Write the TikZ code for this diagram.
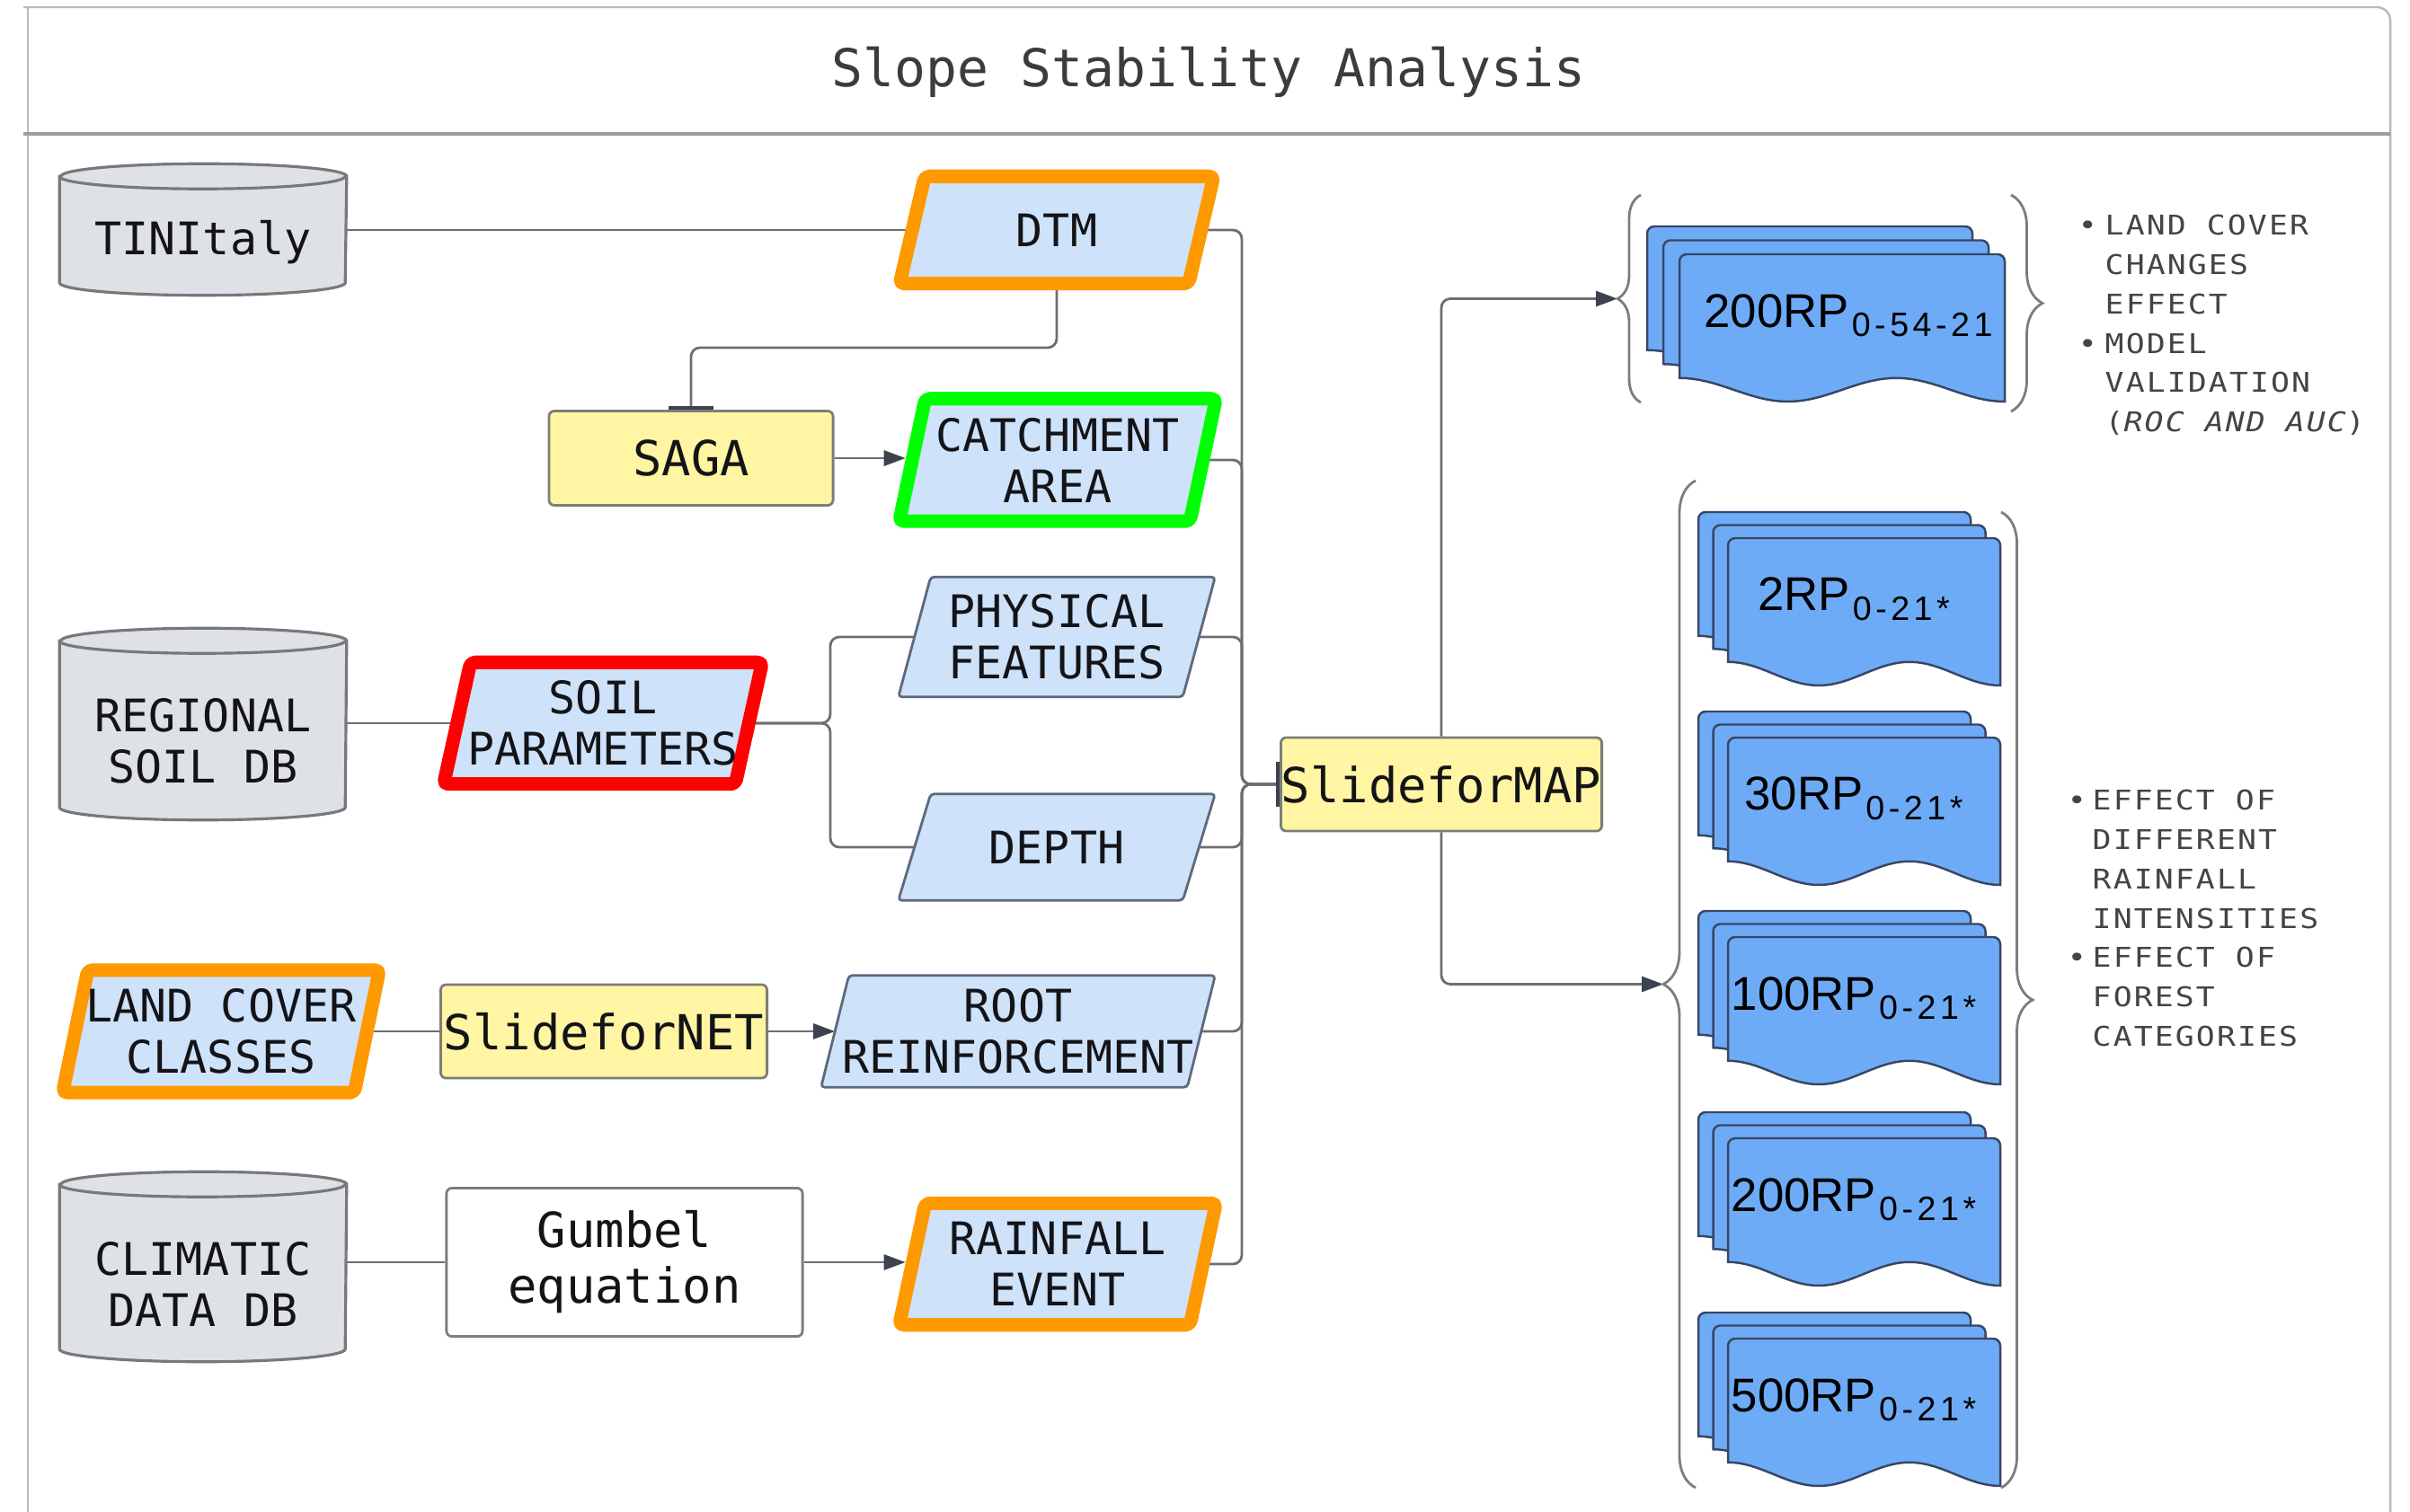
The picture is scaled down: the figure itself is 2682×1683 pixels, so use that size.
\documentclass[tikz,border=0pt]{standalone}
\usepackage{fontspec}
\setmainfont{DejaVu Sans Mono}
\newfontfamily\notefont[FakeStretch=1.15, LetterSpace=7]{DejaVu Sans Mono}
\newfontfamily\docfont{Liberation Sans}
\newfontfamily\subfont[LetterSpace=12]{Liberation Sans}
\usetikzlibrary{arrows.meta,backgrounds,decorations.pathreplacing,calc}
\pgfdeclarelayer{wires}
\pgfsetlayers{wires,background,main}

\definecolor{paraFill}{RGB}{206,226,250}
\definecolor{paraEdge}{RGB}{95,105,125}
\definecolor{toolYellow}{RGB}{255,245,163}
\definecolor{boxEdge}{RGB}{125,125,120}
\definecolor{dbFill}{RGB}{222,225,230}
\definecolor{dbEdge}{RGB}{120,120,124}
\definecolor{docBlue}{RGB}{110,171,246}
\definecolor{docEdge}{RGB}{55,70,100}
\definecolor{wireGray}{RGB}{110,110,112}
\definecolor{tipGray}{RGB}{60,66,78}
\definecolor{braceGray}{RGB}{125,125,125}
\definecolor{hiOrange}{RGB}{255,153,0}
\definecolor{hiGreen}{RGB}{0,255,0}
\definecolor{hiRed}{RGB}{255,0,0}
\definecolor{noteGray}{RGB}{68,68,68}
\definecolor{titleGray}{RGB}{60,60,60}
\definecolor{labelInk}{RGB}{20,20,24}
\definecolor{frameGray}{RGB}{185,185,185}

\tikzset{
  lbl/.style={font=\fontsize{14.2}{16.2}\selectfont, text=labelInk, align=center, inner sep=0pt},
  lblbig/.style={font=\fontsize{15.3}{17.6}\selectfont, text=labelInk, align=center, inner sep=0pt},
  tool/.style={lblbig, draw=boxEdge, fill=toolYellow, line width=0.8pt, rounded corners=0.06cm},
  plainbox/.style={lblbig, draw=boxEdge, fill=white, line width=0.8pt, rounded corners=0.06cm},
  dataframe/.style={fill=paraFill, draw=paraEdge, line width=0.8pt, rounded corners=0.04cm},
  hilite/.style={fill=paraFill, draw=#1, line width=0.15cm, line join=round, rounded corners=0.05cm},
  dbshape/.style={fill=dbFill, draw=dbEdge, line width=0.9pt},
  wire/.style={draw=wireGray, line width=0.8pt, rounded corners=0.1cm},
  tipped/.style={-{Triangle[length=0.24cm,width=0.17cm,color=tipGray]}},
  barred/.style={-{Bar[width=0.5cm,line width=0.04cm,color=tipGray]}},
  docpage/.style={fill=docBlue, draw=docEdge, line width=0.7pt},
  doclabel/.style={inner sep=0pt, text=black},
  curly/.style={draw=braceGray, line width=0.8pt, decorate},
  notes/.style={font=\notefont\fontsize{8.6}{12.5}\selectfont, text=noteGray, align=left, inner sep=0pt},
}

% parallelogram drawn behind a named node: node, horizontal slant, style
\newcommand\paral[3]{%
  \begin{scope}[on background layer]
    \path[#3] ($(#1.north west)+(#2/2,0)$) -- ($(#1.north east)+(#2/2,0)$)
      -- ($(#1.south east)-(#2/2,0)$) -- ($(#1.south west)-(#2/2,0)$) -- cycle;
  \end{scope}}

% database cylinder drawn behind a named node:
% node, x radius, y radius, height of the lid centre above the node
\newcommand\dbcyl[4]{%
  \begin{scope}[on background layer]
    \path[dbshape] ($(#1.north west)+(0,-#4)$) -- ($(#1.south west)+(0,-#3)$)
      arc[start angle=180,end angle=0,x radius=#2,y radius=#3]
      -- ($(#1.north east)+(0,-#4)$)
      arc[start angle=0,end angle=-180,x radius=#2,y radius=#3] -- cycle;
    \draw[dbshape, fill=none] ($(#1.north west)+(0,-#4)$)
      arc[start angle=180,end angle=0,x radius=#2,y radius=#3];
  \end{scope}}

% one result sheet with a wavy lower edge: x, y, width, height
\newcommand\docpage[4]{%
  \path[docpage] ({#1},{#2+0.84*#4}) -- ({#1},{#2+8})
    arc[start angle=180,end angle=270,radius=8] -- ({#1+#3-8},{#2})
    arc[start angle=270,end angle=360,radius=8] -- ({#1+#3},{#2+#4})
    -- plot[domain=0:1, samples=50] ({#1+#3*(1-\x)},{#2+0.92*#4+0.08*#4*cos(540*(1-\x)+180)})
    -- cycle;}

% three stacked sheets: x, y, width, height, dx, dy
\newcommand\docstack[6]{%
  \docpage{#1}{#2}{#3}{#4}%
  \docpage{#1+#5}{#2+#6}{#3}{#4}%
  \docpage{#1+2*#5}{#2+2*#6}{#3}{#4}}

% return-period label with its subscript
\newcommand\rp[2]{{\docfont\fontsize{15}{17}\selectfont #1}\hspace{0.03cm}\raisebox{-0.1cm}{\subfont\fontsize{10.7}{12}\selectfont #2}}

\begin{document}
\begin{tikzpicture}[x=0.01cm, y=-0.01cm]
\useasboundingbox (0,0) rectangle (2682,1683);

% outer frame and header
\draw[frameGray, line width=0.7pt] (26,8) -- (2645,8)
  arc[start angle=270,end angle=360,radius=15] -- (2660,1683);
\draw[frameGray, line width=0.7pt] (31,8) -- (31,1683);
\draw[frameGray!85!black, line width=1pt] (26,149) -- (2660,149);
\node[font=\fontsize{16.5}{20}\selectfont, text=titleGray, inner sep=0pt] (title) at (1345,80) {Slope Stability Analysis};

% databases
\node[lbl, minimum width=3.18cm, minimum height=1.17cm] (tin) at (226,269.5) {TINItaly};
\dbcyl{tin}{159}{14}{14}
\node[lbl, minimum width=3.18cm, minimum height=1.74cm] (reg) at (226,825) {REGIONAL\\SOIL DB};
\dbcyl{reg}{159}{14}{24}
\node[lbl, minimum width=3.18cm, minimum height=1.72cm] (clim) at (226,1429) {CLIMATIC\\DATA DB};
\dbcyl{clim}{159}{14}{24}

% processing tools
\node[tool, minimum width=3.16cm, minimum height=1.05cm] (saga) at (769,510) {SAGA};
\node[tool, minimum width=3.63cm, minimum height=1.04cm] (snet) at (672,1148) {SlideforNET};
\node[plainbox, minimum width=3.96cm, minimum height=1.65cm] (gumbel) at (695,1405) {Gumbel\\equation};
\node[tool, minimum width=3.57cm, minimum height=1.04cm] (smap) at (1604,873) {SlideforMAP};

% input layers
\node[lbl, minimum width=3.20cm, minimum height=1.18cm] (dtm) at (1176,256) {DTM};
\paral{dtm}{28}{hilite=hiOrange}
\node[lbl, minimum width=3.22cm, minimum height=1.35cm] (catch) at (1177,512) {CATCHMENT\\AREA};
\paral{catch}{29}{hilite=hiGreen}
\node[lbl, minimum width=3.15cm, minimum height=1.32cm] (phys) at (1176,709) {PHYSICAL\\FEATURES};
\paral{phys}{36}{dataframe}
\node[lbl, minimum width=3.15cm, minimum height=1.17cm] (depth) at (1176,943) {DEPTH};
\paral{depth}{36}{dataframe}
\node[lbl, minimum width=3.23cm, minimum height=1.34cm] (soil) at (671,805) {SOIL\\PARAMETERS};
\paral{soil}{30}{hilite=hiRed}
\node[lbl, minimum width=4.06cm, minimum height=1.23cm] (root) at (1133,1148) {ROOT\\REINFORCEMENT};
\paral{root}{31}{dataframe}
\node[lbl, minimum width=3.23cm, minimum height=1.35cm] (land) at (246,1148) {LAND COVER\\CLASSES};
\paral{land}{28}{hilite=hiOrange}
\node[lbl, minimum width=3.22cm, minimum height=1.34cm] (rain) at (1177,1407) {RAINFALL\\EVENT};
\paral{rain}{29}{hilite=hiOrange}

% result maps
\docstack{1833}{252}{362}{164}{18}{15.5}
\node[doclabel, anchor=base] (rp54) at (2057,365) {\rp{200RP}{0-54-21}};
\docstack{1890}{570}{303}{164}{16.5}{14.5}
\node[doclabel, anchor=base] (rp2) at (2063,680) {\rp{2RP}{0-21*}};
\docstack{1890}{792}{303}{164}{16.5}{14.5}
\node[doclabel, anchor=base] (rp30) at (2063,902) {\rp{30RP}{0-21*}};
\docstack{1890}{1014}{303}{164}{16.5}{14.5}
\node[doclabel, anchor=base] (rp100) at (2063,1124) {\rp{100RP}{0-21*}};
\docstack{1890}{1238}{303}{164}{16.5}{14.5}
\node[doclabel, anchor=base] (rp200) at (2063,1348) {\rp{200RP}{0-21*}};
\docstack{1890}{1461}{303}{164}{16.5}{14.5}
\node[doclabel, anchor=base] (rp500) at (2063,1571) {\rp{500RP}{0-21*}};

% braces grouping the maps
\coordinate (tipA) at (1800,332.5);
\coordinate (tipB) at (1851,1095.5);
\draw[curly, decoration={brace, amplitude=0.26cm}] (1826,448) -- (1826,217);
\draw[curly, decoration={brace, amplitude=0.35cm}] (2238,217) -- (2238,458);
\draw[curly, decoration={brace, amplitude=0.36cm}] (1887,1656) -- (1887,535);
\draw[curly, decoration={brace, amplitude=0.35cm}] (2227,570) -- (2227,1656);

% notes
\node[notes, anchor=north west] (noteA) at (2342,238)
  {\llap{•\hspace{0.09cm}}LAND COVER\\CHANGES\\EFFECT\\\llap{•\hspace{0.09cm}}MODEL\\VALIDATION\\({\itshape ROC AND AUC})};
\node[notes, anchor=north west] (noteB) at (2328,878)
  {\llap{•\hspace{0.07cm}}EFFECT OF\\DIFFERENT\\RAINFALL\\INTENSITIES\\\llap{•\hspace{0.07cm}}EFFECT OF\\FOREST\\CATEGORIES};

% connectors
\begin{pgfonlayer}{wires}
  \coordinate (knee) at (0,387);
  \coordinate (split) at (924,0);
  \coordinate (bus) at (1382,0);
  \draw[wire] (tin.east |- dtm.west) -- (dtm.west);
  \draw[wire, barred] (dtm.south) -- (dtm.south |- knee) -| (saga.north);
  \draw[wire, tipped, shorten >=0.075cm] (saga.east) -- (saga.east -| catch.west);
  \draw[wire] (reg.east |- soil.west) -- (soil.west);
  \draw[wire] (soil.east) -- (soil.east -| split) |- (phys.west);
  \draw[wire] (soil.east) -- (soil.east -| split) |- (depth.west);
  \draw[wire] (land.east) -- (snet.west);
  \draw[wire, tipped] (snet.east) -- (root.west);
  \draw[wire] (clim.east |- gumbel.west) -- (gumbel.west);
  \draw[wire, tipped, shorten >=0.075cm] (gumbel.east) -- (gumbel.east -| rain.west);
  \foreach \src in {dtm,catch,phys,depth,root,rain}
    \draw[wire, barred] (\src.east) -- (\src.east -| bus) |- (smap.west);
  \draw[wire, tipped] (smap.north) |- (tipA);
  \draw[wire, tipped] (smap.south) |- (tipB);
\end{pgfonlayer}
\end{tikzpicture}
\end{document}
